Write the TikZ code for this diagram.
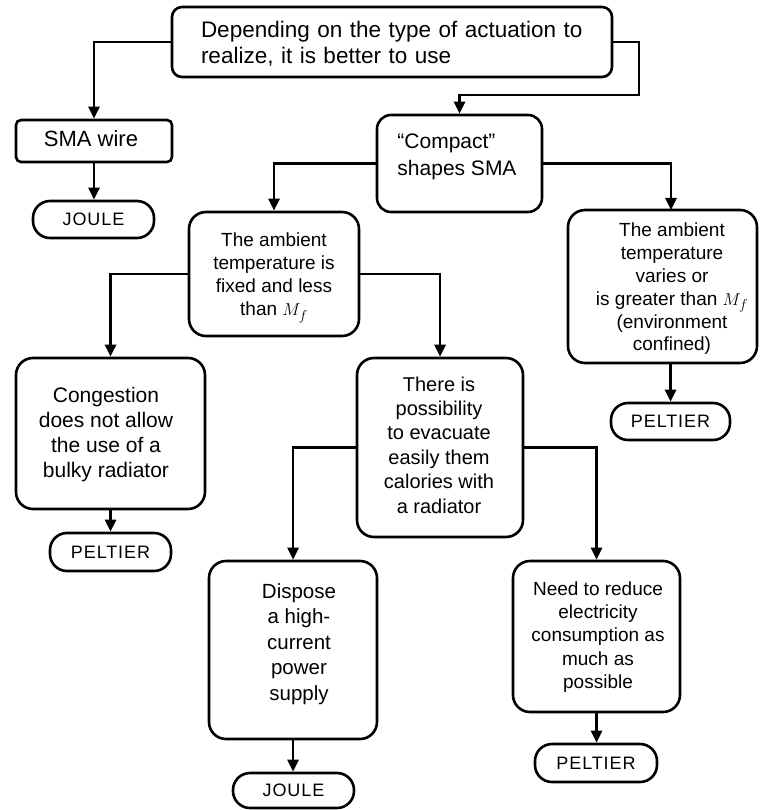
\documentclass[tikz,border=0pt]{standalone}
\usepackage{fontspec}
\setmainfont{Liberation Sans}
\newfontfamily\pillfont[LetterSpace=5]{Liberation Sans}
\usetikzlibrary{arrows.meta}
\tikzset{
  box/.style={draw, line width=2.6pt, rounded corners=17pt, inner sep=0pt},
  pill/.style={draw, line width=2.6pt, rounded corners=17pt, inner sep=0pt, minimum width=121pt, minimum height=37pt, font=\pillfont\fontsize{18}{20}\selectfont},
  txt/.style={align=center, inner sep=0pt},
  arr/.style={line width=2.6pt, -{Triangle[width=11pt,length=12pt]}},
}
\begin{document}
\begin{tikzpicture}[x=1pt,y=-1pt]
\useasboundingbox (0,0) rectangle (760,810);
% boxes
\node[box, rounded corners=10pt, minimum width=440pt, minimum height=70pt] (top) at (392,42) {};
\node[txt, text width=396pt, align=left, font=\fontsize{22.5}{26.5}\selectfont] (topt) at (399,44) {\makebox[396pt][s]{Depending on the type of actuation to}\\realize, it is better to use};
\node[box, rounded corners=5pt, minimum width=156pt, minimum height=42pt] (sma) at (94,141) {};
\node[txt, font=\fontsize{22}{26}\selectfont] (smat) at (91,139) {SMA wire};
\node[pill] (joule1) at (93.5,219.5) {JOULE};
\node[box, rounded corners=14pt, minimum width=165pt, minimum height=97pt] (compact) at (459.5,163.5) {};
\node[txt, align=left, font=\fontsize{21}{27}\selectfont] (compactt) at (457,157) {``Compact''\\shapes SMA};
\node[box, minimum width=170pt, minimum height=124pt] (fixed) at (274,274) {};
\node[txt, font=\fontsize{19}{23}\selectfont] (fixedt) at (274,278) {The ambient\\temperature is\\fixed and less\\than $M_f$};
\node[box, minimum width=189pt, minimum height=153pt] (amb) at (662.5,286.5) {};
\node[txt, font=\fontsize{19}{22.8}\selectfont] (ambt) at (672,289) {The ambient\\temperature\\varies or\\is greater than $M_f$\\(environment\\confined)};
\node[pill, minimum width=119pt] (pel2) at (670.5,421.5) {PELTIER};
\node[box, minimum width=189pt, minimum height=151pt] (cong) at (110.5,433.5) {};
\node[txt, font=\fontsize{21}{25}\selectfont] (congt) at (106,435) {Congestion\\does not allow\\the use of a\\bulky radiator};
\node[pill, minimum height=38pt] (pel1) at (110.5,552) {PELTIER};
\node[box, minimum width=166pt, minimum height=179pt] (poss) at (440,447.5) {};
\node[txt, font=\fontsize{20}{24.4}\selectfont] (posst) at (439,445) {There is\\possibility\\to evacuate\\easily them\\calories with\\a radiator};
\node[box, minimum width=168pt, minimum height=178pt] (disp) at (293,650) {};
\node[txt, font=\fontsize{20.5}{25.5}\selectfont] (dispt) at (299,644) {Dispose\\a high-\\current\\power\\supply};
\node[pill, minimum height=35pt] (joule2) at (293.5,790.5) {JOULE};
\node[box, minimum width=167pt, minimum height=151pt] (need) at (596.5,636.5) {};
\node[txt, font=\fontsize{19}{23.3}\selectfont] (needt) at (598,637) {Need to reduce\\electricity\\consumption as\\much as\\possible};
\node[pill, minimum width=122pt, minimum height=38pt] (pel3) at (596,763) {PELTIER};
% helper coordinates
\coordinate (tr) at (639,95);
\coordinate (ra) at (671,210);
% connectors
\draw[arr] (top.west) -| (sma.north);
\draw[arr] (top.east) -| (tr) -| (compact.north);
\draw[arr] (sma.south) -- (sma.south |- joule1.north);
\draw[arr] (compact.west) -| (fixed.north);
\draw[arr] (compact.east) -| (ra);
\draw[arr] (fixed.west) -| (cong.north);
\draw[arr] (fixed.east) -| (poss.north);
\draw[arr] (pel2.north |- amb.south) -- (pel2.north);
\draw[arr] (cong.south) -- (pel1.north);
\draw[arr] (poss.west) -| (disp.north);
\draw[arr] (poss.east) -| (need.north);
\draw[arr] (disp.south) -- (disp.south |- joule2.north);
\draw[arr] (need.south) -- (need.south |- pel3.north);
\end{tikzpicture}
\end{document}
